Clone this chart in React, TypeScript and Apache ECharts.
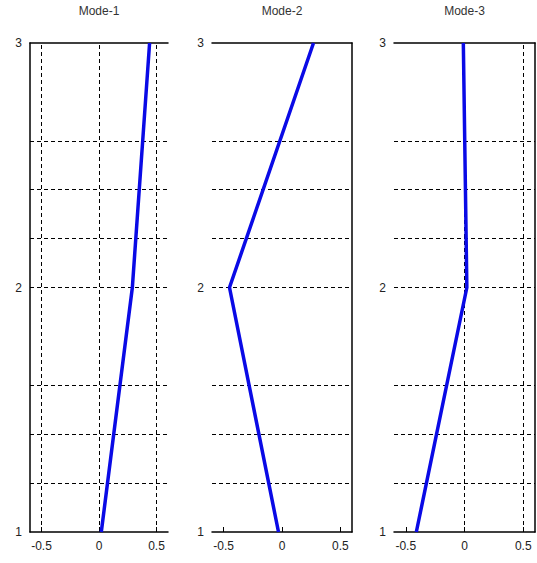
import React, { useEffect, useRef } from "react";
import * as echarts from "echarts";

const titles = ["Mode-1", "Mode-2", "Mode-3"];
const depths = [1, 2, 3];
const mode1 = [0.02, 0.29, 0.44];
const mode2 = [-0.03, -0.45, 0.27];
const mode3 = [-0.41, 0.02, -0.01];
const xTicks = [-0.5, 0, 0.5];
const yTicks = [1, 2, 3];
const hGrid = [1.2, 1.4, 1.6, 2, 2.2, 2.4, 2.6];
const vGrid = [[-0.5, 0, 0.5], [], [0, 0.5]];

const modes = [mode1, mode2, mode3];
const gridPos = [
  { left: 30, width: 138 },
  { left: 212, width: 140 },
  { left: 394, width: 141 },
];

export default function App() {
  const ref = useRef<HTMLDivElement>(null);
  useEffect(() => {
    if (!ref.current) return;
    const chart = echarts.init(ref.current, null, { renderer: "svg" });
    const font = "Liberation Sans, Arial, sans-serif";
    const grids = gridPos.map((g) => ({
      left: g.left,
      width: g.width,
      top: 42,
      height: 490,
      containLabel: false,
    }));
    const xAxis: any[] = [];
    const yAxis: any[] = [];
    gridPos.forEach((_, i) => {
      xAxis.push({
        type: "value",
        gridIndex: i,
        position: "bottom",
        min: -0.6,
        max: 0.6,
        axisLine: { show: true, onZero: false, lineStyle: { color: "#000", width: 1.5 } },
        axisTick: { show: true, inside: true, length: 5, customValues: xTicks, lineStyle: { color: "#000" } },
        axisLabel: {
          customValues: xTicks,
          formatter: (v: number) => String(v),
          color: "#222",
          fontSize: 12,
          fontFamily: font,
          margin: 8,
        },
        splitLine: { show: false },
      });
      xAxis.push({
        type: "value",
        gridIndex: i,
        position: "top",
        min: -0.6,
        max: 0.6,
        name: titles[i],
        nameLocation: "middle",
        nameGap: 26,
        nameTextStyle: { color: "#333", fontSize: 12, fontFamily: font },
        axisLine: { show: true, onZero: false, lineStyle: { color: "#000", width: 1.5 } },
        axisTick: { show: false },
        axisLabel: { show: false },
        splitLine: { show: false },
      });
      yAxis.push({
        type: "value",
        gridIndex: i,
        position: "left",
        min: 1,
        max: 3,
        interval: 1,
        axisLine: { show: i === 0, onZero: false, lineStyle: { color: "#000", width: 1.5 } },
        axisTick: { show: false },
        axisLabel: { color: "#222", fontSize: 12, fontFamily: font, margin: 8 },
        splitLine: { show: false },
      });
      if (i > 0) {
        yAxis.push({
          type: "value",
          gridIndex: i,
          position: "right",
          min: 1,
          max: 3,
          axisLine: { show: true, onZero: false, lineStyle: { color: "#000", width: 1.5 } },
          axisTick: { show: false },
          axisLabel: { show: false },
          splitLine: { show: false },
        });
      }
    });
    const yLeftIndex = [0, 1, 3];
    const series = modes.map((m, i) => ({
      type: "line",
      xAxisIndex: i * 2,
      yAxisIndex: yLeftIndex[i],
      data: m.map((v, k) => [v, depths[k]]),
      symbol: "none",
      lineStyle: { color: "#0a0ae6", width: 3.5 },
      z: 5,
      markLine: {
        silent: true,
        symbol: ["none", "none"],
        label: { show: false },
        lineStyle: { color: "#000", type: [4, 3], width: 1 },
        data: [
          ...hGrid.map((y) => ({ yAxis: y })),
          ...vGrid[i].map((x) => ({ xAxis: x })),
        ],
      },
    }));
    chart.setOption({
      animation: false,
      backgroundColor: "#fff",
      grid: grids,
      xAxis,
      yAxis,
      series,
    });
    return () => chart.dispose();
  }, []);
  return (
    <div
      ref={ref}
      style={{ position: "fixed", left: 0, top: 0, width: 537, height: 563 }}
    />
  );
}
